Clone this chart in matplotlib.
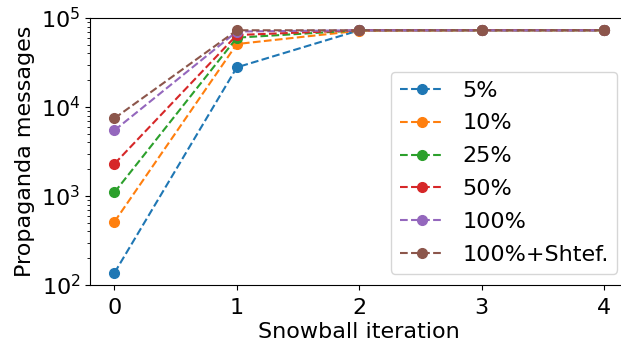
import numpy as np
import matplotlib
matplotlib.use("Agg")
import matplotlib.pyplot as plt

# ---- data ----
iterations = [0, 1, 2, 3, 4]
labels = ['5%', '10%', '25%', '50%', '100%', '100%+Shtef.']
msgs_5 = [137, 27900, 72800, 72800, 72800]
msgs_10 = [514, 51000, 72000, 72800, 72800]
msgs_25 = [1100, 60100, 72800, 72800, 72800]
msgs_50 = [2300, 64400, 72800, 72800, 72800]
msgs_100 = [5470, 70500, 72800, 72800, 72800]
msgs_100_shtef = [7470, 72800, 72800, 72800, 72800]
series = [msgs_5, msgs_10, msgs_25, msgs_50, msgs_100, msgs_100_shtef]

plt.rcParams['font.size'] = 16

fig = plt.figure(figsize=(6.21, 3.43), dpi=100)
# axes runs a bit past the right edge (cropped figure)
ax = fig.add_axes([90 / 621, 1 - 285 / 343, 538.5 / 621, 267 / 343])
for vals, lab in zip(series, labels):
    ax.plot(iterations, vals, '--o', label=lab, markersize=7)

ax.set_yscale('log')
ax.set_ylim(100, 100000)
ax.set_xlim(-0.2, 4.2)
ax.set_xticks(iterations)
ax.tick_params(axis='x', pad=6)
ax.set_xlabel('Snowball iteration', labelpad=3)
ax.set_ylabel('Propaganda messages')
ax.legend(loc='lower right', labelspacing=0.58)

plt.savefig('out.png', dpi=100)
